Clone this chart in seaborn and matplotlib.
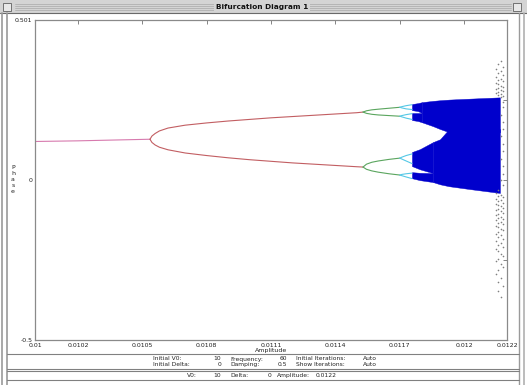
import matplotlib
matplotlib.use('Agg')
import pandas as pd
import matplotlib.pyplot as plt
import seaborn as sns
from matplotlib.patches import Rectangle
from matplotlib.lines import Line2D

# ---- data ----
# period 1
p1_amp = [0.0100, 0.0102, 0.0104, 0.010536]
p1_phase = [0.121, 0.123, 0.126, 0.128]

# period 2
p2_amp = [0.010536, 0.010545, 0.01056, 0.01058, 0.01062, 0.01070, 0.01080, 0.01090,
          0.01100, 0.01110, 0.01120, 0.01130, 0.01140, 0.01150, 0.011529]
p2_upper = [0.128, 0.138, 0.146, 0.154, 0.163, 0.172, 0.179, 0.185,
            0.190, 0.195, 0.199, 0.203, 0.207, 0.211, 0.213]
p2_lower = [0.128, 0.118, 0.110, 0.103, 0.095, 0.085, 0.077, 0.070,
            0.064, 0.059, 0.054, 0.050, 0.046, 0.042, 0.041]

# period 4
p4_amp = [0.011529, 0.011545, 0.01157, 0.01160, 0.01165, 0.011701]
p4_a_hi = [0.213, 0.217, 0.220, 0.222, 0.225, 0.228]
p4_a_lo = [0.213, 0.209, 0.206, 0.204, 0.202, 0.200]
p4_b_hi = [0.041, 0.050, 0.056, 0.060, 0.065, 0.069]
p4_b_lo = [0.041, 0.034, 0.029, 0.025, 0.020, 0.016]

# period 8
p8_amp = [0.011701, 0.01171, 0.01173, 0.011757]
p8_branches = [
    [0.228, 0.230, 0.233, 0.236], [0.228, 0.226, 0.223, 0.221],
    [0.200, 0.202, 0.205, 0.208], [0.200, 0.198, 0.194, 0.190],
    [0.069, 0.072, 0.077, 0.082], [0.069, 0.066, 0.060, 0.052],
    [0.016, 0.018, 0.020, 0.022], [0.016, 0.014, 0.010, 0.005],
]

# chaotic bands (amplitude, top, bottom)
u1_amp = [0.011757, 0.011785, 0.011804]
u1_top = [0.238, 0.241, 0.244]
u1_bot = [0.219, 0.216, 0.210]
u2_amp = [0.011757, 0.011785, 0.011804]
u2_top = [0.210, 0.210, 0.210]
u2_bot = [0.188, 0.185, 0.181]
u_amp = [0.011804, 0.011855, 0.011888, 0.011930, 0.012028, 0.012167]
u_top = [0.244, 0.248, 0.250, 0.252, 0.255, 0.259]
u_bot = [0.181, 0.169, 0.160, 0.150, 0.150, 0.150]

l1_amp = [0.011757, 0.011794, 0.011855]
l1_top = [0.088, 0.097, 0.119]
l1_bot = [0.044, 0.034, 0.022]
l2_amp = [0.011757, 0.011794, 0.011855]
l2_top = [0.025, 0.023, 0.022]
l2_bot = [0.006, 0.000, -0.006]
l_amp = [0.011855, 0.011888, 0.011930, 0.012028, 0.012167]
l_top = [0.119, 0.128, 0.160, 0.160, 0.160]
l_bot = [-0.006, -0.013, -0.019, -0.028, -0.040]

# scattered transient points at the last amplitude
dots_phase = [0.372, 0.362, 0.354, 0.347, 0.340, 0.334, 0.329, 0.323, 0.318, 0.313,
              0.309, 0.304, 0.300, 0.296, 0.292, 0.288, 0.285, 0.281, 0.278, 0.275,
              0.272, 0.269, 0.266, 0.263, 0.261, 0.245, 0.228, 0.205, 0.182, 0.160,
              0.138, 0.112, 0.090, 0.066, 0.043, 0.020, 0.002, -0.015, -0.030, -0.040,
              -0.045, -0.050, -0.054, -0.058, -0.062, -0.066, -0.070, -0.074, -0.078, -0.082,
              -0.086, -0.090, -0.094, -0.098, -0.102, -0.106, -0.110, -0.114, -0.118, -0.122,
              -0.126, -0.130, -0.134, -0.138, -0.142, -0.147, -0.152, -0.157, -0.162, -0.167,
              -0.172, -0.178, -0.184, -0.190, -0.196, -0.202, -0.209, -0.216, -0.223, -0.230,
              -0.238, -0.246, -0.254, -0.263, -0.272, -0.282, -0.293, -0.305, -0.318, -0.332,
              -0.348, -0.366]
dots_amp = [0.01217, 0.01216, 0.01218, 0.01215, 0.01217, 0.01216, 0.01218, 0.01215, 0.01217, 0.01216,
            0.01218, 0.01215, 0.01216, 0.01217, 0.01218, 0.01216, 0.01215, 0.01217, 0.01218, 0.01216,
            0.01215, 0.01217, 0.01216, 0.01218, 0.01217, 0.01218, 0.01218, 0.01217, 0.01218, 0.01218,
            0.01217, 0.01218, 0.01218, 0.01217, 0.01218, 0.01218, 0.01217, 0.01218, 0.01216, 0.01215,
            0.01217, 0.01216, 0.01218, 0.01215, 0.01217, 0.01216, 0.01218, 0.01215, 0.01216, 0.01217,
            0.01218, 0.01216, 0.01215, 0.01217, 0.01218, 0.01216, 0.01215, 0.01217, 0.01216, 0.01218,
            0.01215, 0.01217, 0.01216, 0.01218, 0.01215, 0.01216, 0.01217, 0.01218, 0.01216, 0.01215,
            0.01217, 0.01216, 0.01218, 0.01215, 0.01217, 0.01216, 0.01218, 0.01215, 0.01216, 0.01217,
            0.01218, 0.01216, 0.01215, 0.01217, 0.01218, 0.01216, 0.01215, 0.01217, 0.01216, 0.01218,
            0.01216, 0.01217]

x_ticks = [0.01, 0.0102, 0.0105, 0.0108, 0.0111, 0.0114, 0.0117, 0.012, 0.0122]
x_labels = ['0.01', '0.0102', '0.0105', '0.0108', '0.0111', '0.0114', '0.0117', '0.012', '0.0122']
y_ticks = [-0.5, -0.25, 0, 0.25, 0.501]
y_labels = ['-0.5', '', '0', '', '0.501']

colors = {'p1': '#d77aae', 'p2': '#c25e62', 'p4': '#5aa55e', 'p8': '#55c8e6'}
chaos_color = '#0000cc'

# ---- long table for the periodic branches ----
rows = []
def add(name, period, xs, ys):
    for a, p in zip(xs, ys):
        rows.append({'Amplitude': a, 'Phase': p, 'branch': name, 'period': period})

add('p1', 'p1', p1_amp, p1_phase)
add('p2u', 'p2', p2_amp, p2_upper)
add('p2l', 'p2', p2_amp, p2_lower)
add('p4a', 'p4', p4_amp, p4_a_hi)
add('p4b', 'p4', p4_amp, p4_a_lo)
add('p4c', 'p4', p4_amp, p4_b_hi)
add('p4d', 'p4', p4_amp, p4_b_lo)
for i, br in enumerate(p8_branches):
    add(f'p8{i}', 'p8', p8_amp, br)
df = pd.DataFrame(rows)

sns.set_style('white')
plt.rcParams['font.family'] = ['DejaVu Sans']

W, H = 527, 385
fig = plt.figure(figsize=(W / 100, H / 100), dpi=100)
fig.patch.set_facecolor('white')

def fx(px):
    return px / W

def fy(py):
    return 1 - py / H

ax = fig.add_axes([fx(35), fy(340), (507 - 35) / W, (340 - 20) / H])

sns.lineplot(data=df, x='Amplitude', y='Phase', hue='period', units='branch',
             estimator=None, sort=False, palette=colors, linewidth=0.8,
             legend=False, ax=ax)

for xs, top, bot in [(u1_amp, u1_top, u1_bot), (u2_amp, u2_top, u2_bot), (u_amp, u_top, u_bot),
                     (l1_amp, l1_top, l1_bot), (l2_amp, l2_top, l2_bot), (l_amp, l_top, l_bot)]:
    ax.fill_between(xs, bot, top, color=chaos_color, linewidth=0.3, edgecolor=chaos_color)

sns.scatterplot(x=dots_amp, y=dots_phase, color='#808080', s=1.4, linewidth=0, ax=ax)

ax.set_xlim(0.01, 0.0122)
ax.set_ylim(-0.5, 0.501)
ax.set_xticks(x_ticks)
ax.set_xticklabels(x_labels)
ax.set_yticks(y_ticks)
ax.set_yticklabels(y_labels)
ax.tick_params(direction='in', length=3, width=0.6, top=True, right=True,
               labelsize=4.5, pad=2, color='#707070', labelcolor='#222222')
for s in ax.spines.values():
    s.set_color('#8a8a8a')
    s.set_linewidth(0.9)
ax.set_xlabel('Amplitude', fontsize=4.5, labelpad=0.5, color='#222222')
ax.set_ylabel('')
fig.text(fx(13), fy(180), 'P\nh\na\ns\ne', fontsize=4.5, ha='center', va='center',
         linespacing=1.25, color='#222222')

# ---- window chrome ----
def hline(y, x0, x1, color='#808080', lw=0.8):
    fig.add_artist(Line2D([fx(x0), fx(x1)], [fy(y), fy(y)], color=color, lw=lw))

def vline(x, y0, y1, color='#808080', lw=0.8):
    fig.add_artist(Line2D([fx(x), fx(x)], [fy(y0), fy(y1)], color=color, lw=lw))

fig.add_artist(Rectangle((0, fy(13)), 1, 13 / H, facecolor='#d4d4d4', edgecolor='none'))
for y in [4, 6, 8, 10]:
    hline(y, 15, 511, color='#a8a8a8', lw=0.5)
fig.add_artist(Rectangle((fx(3), fy(11)), 8 / W, 8 / H, facecolor='#e8e8e8',
                         edgecolor='#606060', lw=0.6))
fig.add_artist(Rectangle((fx(513), fy(11)), 8 / W, 8 / H, facecolor='#e8e8e8',
                         edgecolor='#606060', lw=0.6))
fig.text(fx(262), fy(7), 'Bifurcation Diagram 1', fontsize=5.3, fontweight='bold',
         ha='center', va='center', color='#111111',
         bbox=dict(facecolor='#d4d4d4', edgecolor='none', pad=1.5))
hline(13, 0, 527, color='#6a6a6a', lw=0.8)

vline(2, 13, 385, color='#9a9a9a', lw=1.2)
vline(7, 13, 385, color='#9a9a9a', lw=1.2)
vline(519, 13, 385, color='#9a9a9a', lw=1.0)
vline(524, 13, 385, color='#b0b0b0', lw=1.2)

hline(354, 7, 519)
hline(369, 7, 519)
hline(371, 7, 519)
hline(380, 7, 519)

fs = 4.3
tc = '#222222'
def t(x, y, s, ha='left'):
    fig.text(fx(x), fy(y), s, fontsize=fs, ha=ha, va='center', color=tc)

t(153, 359, 'Initial V0:')
t(221, 359, '10', 'right')
t(230, 359, 'Frequency:')
t(287, 359, '60', 'right')
t(296, 359, 'Initial Iterations:')
t(363, 359, 'Auto')
t(153, 364.5, 'Initial Delta:')
t(221, 364.5, '0', 'right')
t(230, 364.5, 'Damping:')
t(287, 364.5, '0.5', 'right')
t(296, 364.5, 'Show Iterations:')
t(363, 364.5, 'Auto')
t(197, 375.5, 'V0:', 'right')
t(221, 375.5, '10', 'right')
t(230, 375.5, 'Delta:')
t(271, 375.5, '0', 'right')
t(277, 375.5, 'Amplitude:')
t(316, 375.5, '0.0122')

fig.savefig('out.png', dpi=100)
